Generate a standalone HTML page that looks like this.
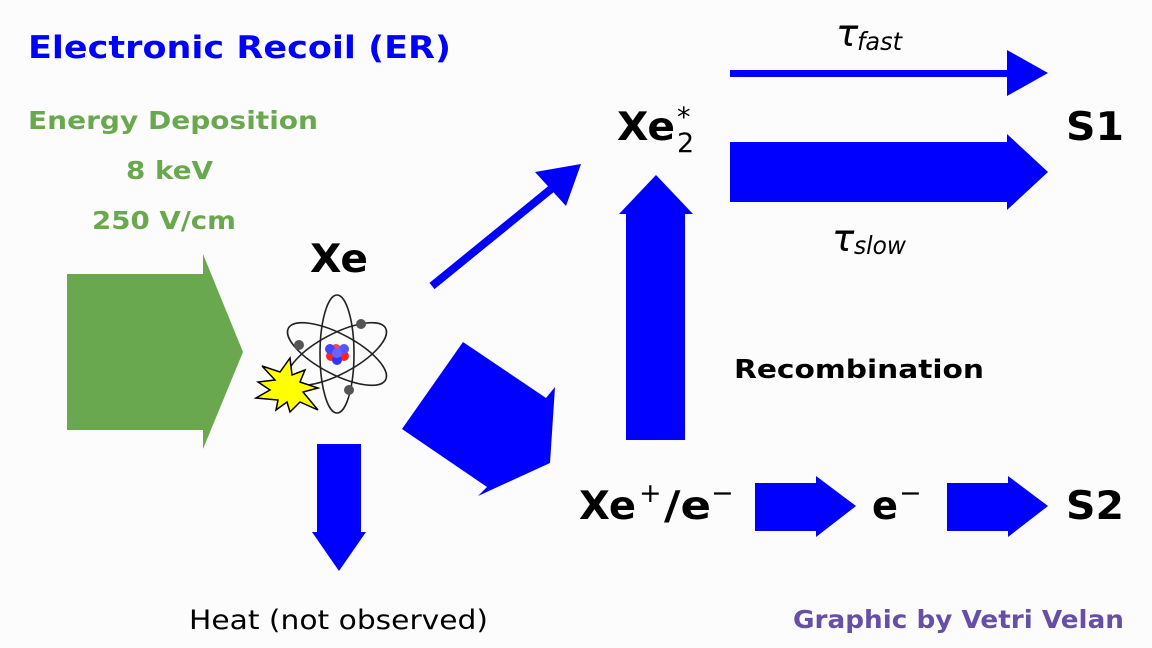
<!DOCTYPE html>
<html><head><meta charset="utf-8"><style>
html,body{margin:0;padding:0;background:#fcfcfc;}
svg{display:block;}
text{font-family:"DejaVu Sans","Liberation Sans",sans-serif;}
</style></head><body>
<svg width="1152" height="648" viewBox="0 0 1152 648" xmlns="http://www.w3.org/2000/svg">
<rect width="1152" height="648" fill="#fcfcfc"/>
<text x="28" y="58" font-size="31" font-weight="bold" fill="#0000ff" textLength="423" lengthAdjust="spacingAndGlyphs">Electronic Recoil (ER)</text>
<text x="28" y="129" font-size="25" font-weight="bold" fill="#6aa84f" textLength="290" lengthAdjust="spacingAndGlyphs">Energy Deposition</text>
<text x="126" y="179" font-size="25" font-weight="bold" fill="#6aa84f" textLength="87" lengthAdjust="spacingAndGlyphs">8 keV</text>
<text x="92" y="229" font-size="25" font-weight="bold" fill="#6aa84f" textLength="144" lengthAdjust="spacingAndGlyphs">250 V/cm</text>
<polygon points="67,274 203,274 203,254 243,352 203,449 203,430 67,430" fill="#6aa84f"/>
<text x="310" y="272" font-size="39" font-weight="bold" fill="#000" textLength="58" lengthAdjust="spacingAndGlyphs">Xe</text>
<g fill="none" stroke="#222" stroke-width="1.6">
<ellipse cx="337" cy="354" rx="17" ry="59"/>
<ellipse cx="337" cy="354" rx="55" ry="20" transform="rotate(28 337 354)"/>
<ellipse cx="337" cy="354" rx="55" ry="20" transform="rotate(-28 337 354)"/>
</g>
<circle cx="299" cy="345" r="5" fill="#555"/>
<circle cx="361" cy="324" r="5" fill="#555"/>
<circle cx="349" cy="390" r="5" fill="#555"/>
<circle cx="331" cy="356" r="5" fill="#f22"/><circle cx="344" cy="356" r="5" fill="#f22"/>
<circle cx="336" cy="349" r="5" fill="#f44"/><circle cx="330" cy="349" r="5" fill="#44f"/>
<circle cx="344" cy="349" r="5" fill="#55f"/><circle cx="337" cy="360" r="5" fill="#33f"/>
<circle cx="337" cy="353" r="5" fill="#66f"/>
<polygon points="290,358 292,375 305,370 300,382 318,388 303,392 318,410 300,402 290,412 287,402 276,410 278,400 256,398 270,390 258,382 275,380 262,366 280,372" fill="#ff0" stroke="#000" stroke-width="1.5"/>
<line x1="432" y1="286" x2="556" y2="185" stroke="#0000ff" stroke-width="8"/>
<polygon points="581,164 535,172 566,206" fill="#0000ff"/>
<polygon points="463,342 546,398 555,387 550,463 478,496 487,487 402,429" fill="#0000ff"/>
<polygon points="317,444 361,444 361,532 366,532 339,571 312,532 317,532" fill="#0000ff"/>
<text x="189" y="629" font-size="27" fill="#000" textLength="299" lengthAdjust="spacingAndGlyphs">Heat (not observed)</text>
<polygon points="626,440 685,440 685,214 693,214 656,175 619,214 626,214" fill="#0000ff"/>
<text x="617" y="140" font-size="39" font-weight="bold" fill="#000" textLength="58" lengthAdjust="spacingAndGlyphs">Xe</text>
<text x="677" y="152" font-size="27" fill="#000">2</text>
<text x="677" y="126" font-size="27" fill="#000">*</text>
<text x="836" y="46" font-size="37" font-style="italic" fill="#000">τ</text>
<text x="857" y="50" font-size="25" font-style="italic" fill="#000" textLength="45" lengthAdjust="spacingAndGlyphs">fast</text>
<rect x="730" y="70" width="278" height="7" fill="#0000ff"/>
<polygon points="1007,50 1048,73 1007,96" fill="#0000ff"/>
<polygon points="730,142 1007,142 1007,134 1048,172 1007,210 1007,202 730,202" fill="#0000ff"/>
<text x="832" y="251" font-size="37" font-style="italic" fill="#000">τ</text>
<text x="854" y="254" font-size="25" font-style="italic" fill="#000" textLength="52" lengthAdjust="spacingAndGlyphs">slow</text>
<text x="1066" y="140" font-size="39" font-weight="bold" fill="#000" textLength="58" lengthAdjust="spacingAndGlyphs">S1</text>
<text x="734" y="378" font-size="26" font-weight="bold" fill="#000" textLength="250" lengthAdjust="spacingAndGlyphs">Recombination</text>
<text x="579" y="519" font-size="39" font-weight="bold" fill="#000" textLength="57" lengthAdjust="spacingAndGlyphs">Xe</text>
<text x="639" y="502" font-size="27" fill="#000">+</text>
<text x="664" y="519" font-size="39" font-weight="bold" fill="#000" textLength="47" lengthAdjust="spacingAndGlyphs">/e</text>
<text x="711" y="502" font-size="27" fill="#000">−</text>
<polygon points="755,483 816,483 816,476 856,506 816,537 816,531 755,531" fill="#0000ff"/>
<text x="872" y="519" font-size="39" font-weight="bold" fill="#000" textLength="26" lengthAdjust="spacingAndGlyphs">e</text>
<text x="899" y="502" font-size="27" fill="#000">−</text>
<polygon points="947,483 1008,483 1008,476 1048,506 1008,537 1008,531 947,531" fill="#0000ff"/>
<text x="1066" y="519" font-size="39" font-weight="bold" fill="#000" textLength="58" lengthAdjust="spacingAndGlyphs">S2</text>
<text x="793" y="628" font-size="25" font-weight="bold" fill="#674ea7" textLength="331" lengthAdjust="spacingAndGlyphs">Graphic by Vetri Velan</text>
</svg>
</body></html>
